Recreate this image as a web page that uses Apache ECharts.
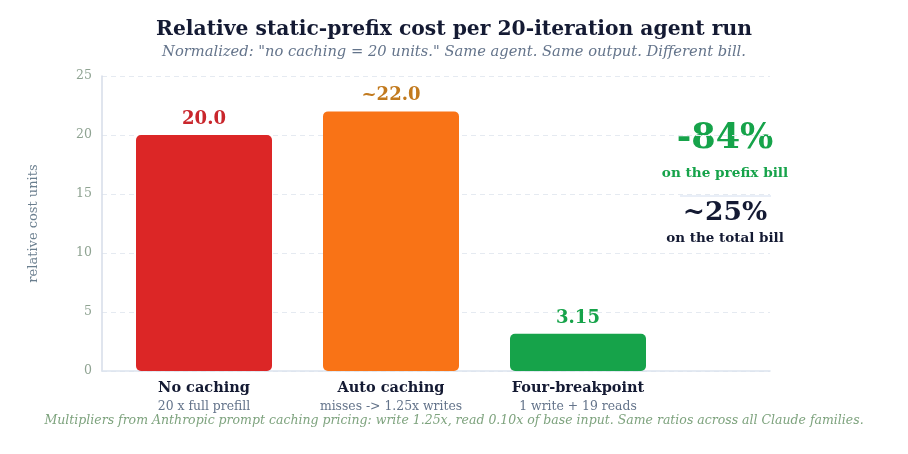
<!DOCTYPE html>
<html>
<head>
<meta charset="utf-8" />
<title>Relative static-prefix cost</title>
<script src="https://cdnjs.cloudflare.com/ajax/libs/echarts/6.0.0/echarts.min.js"></script>
<style>
  html, body { margin: 0; padding: 0; background: #fff; }
  #chart { width: 908px; height: 454px; }
</style>
</head>
<body>
<div id="chart"></div>
<script>
  // data
  var categories = ['No caching', 'Auto caching', 'Four-breakpoint'];
  var subLabels = ['20 x full prefill', 'misses -> 1.25x writes', '1 write + 19 reads'];
  var values = [20.0, 22.0, 3.15];
  var valueLabels = ['20.0', '~22.0', '3.15'];
  var barColors = ['#dc2626', '#f97316', '#16a34a'];
  var labelColors = ['#c9262c', '#c27a1e', '#16a34a'];
  var yTicks = { min: 0, max: 25, interval: 5 };

  var font = 'DejaVu Serif';
  var dark = '#141a33';

  var option = {
    animation: false,
    title: [{
      text: 'Relative static-prefix cost per 20-iteration agent run',
      left: 'center', top: 15,
      textStyle: { fontFamily: font, fontSize: 20.3, fontWeight: 'bold', color: dark }
    }, {
      text: 'Normalized: "no caching = 20 units." Same agent. Same output. Different bill.',
      left: 'center', top: 40,
      textStyle: { fontFamily: font, fontSize: 14.7, fontStyle: 'italic', fontWeight: 'normal', color: '#64748b' }
    }, {
      text: 'Multipliers from Anthropic prompt caching pricing: write 1.25x, read 0.10x of base input. Same ratios across all Claude families.',
      left: 'center', top: 409,
      textStyle: { fontFamily: font, fontSize: 12.5, fontStyle: 'italic', fontWeight: 'normal', color: '#7ea37e' }
    }],
    grid: [
      // background grid: axis lines + dashed split lines
      { left: 102, right: 138, top: 76, bottom: 83 },
      // bars
      { left: 110.5, right: 236.5, top: 76, bottom: 83 }
    ],
    xAxis: [{
      gridIndex: 0, type: 'category', data: [''],
      axisLine: { lineStyle: { color: '#dbe3ee', width: 1.5 } },
      axisTick: { show: false }, axisLabel: { show: false }
    }, {
      gridIndex: 1, type: 'category', data: categories,
      axisLine: { show: false }, axisTick: { show: false },
      axisLabel: {
        margin: 8,
        formatter: function (v, i) { return '{a|' + v + '}\n{b|' + subLabels[i] + '}'; },
        rich: {
          a: { fontFamily: font, fontSize: 14.5, fontWeight: 'bold', color: dark, lineHeight: 19 },
          b: { fontFamily: font, fontSize: 12.4, color: '#64748b', lineHeight: 17 }
        }
      }
    }],
    yAxis: [{
      gridIndex: 0, type: 'value', min: yTicks.min, max: yTicks.max, interval: yTicks.interval,
      name: 'relative cost units', nameLocation: 'middle', nameGap: 62, nameRotate: 90,
      nameTextStyle: { fontFamily: font, fontSize: 13, color: '#6b7f8f' },
      axisLine: { show: true, lineStyle: { color: '#d6dce8', width: 1.5 } },
      axisTick: { show: false },
      axisLabel: { fontFamily: font, fontSize: 12.5, color: '#8fa392', margin: 10 },
      splitLine: { lineStyle: { color: '#e5eaf1', type: [5, 4], width: 1 } }
    }, {
      gridIndex: 1, type: 'value', min: yTicks.min, max: yTicks.max, interval: yTicks.interval,
      show: false, splitLine: { show: false }
    }],
    series: [{
      type: 'bar', xAxisIndex: 1, yAxisIndex: 1,
      barWidth: 136,
      data: values.map(function (v, i) {
        return {
          value: v,
          itemStyle: { color: barColors[i], borderRadius: [5, 5, 5, 5] },
          label: { color: labelColors[i], formatter: valueLabels[i] }
        };
      }),
      label: {
        show: true, position: 'top', distance: 7,
        fontFamily: font, fontSize: 18, fontWeight: 'bold'
      }
    }]
  };

  // right-hand annotation
  option.graphic = [
    { type: 'text', x: 725, y: 139, style: { text: '-84%', fontFamily: font, fontSize: 35, fontWeight: 'bold', fill: '#16a34a', align: 'center', verticalAlign: 'middle' } },
    { type: 'text', x: 725, y: 173, style: { text: 'on the prefix bill', fontFamily: font, fontSize: 13.6, fontWeight: 'bold', fill: '#16a34a', align: 'center', verticalAlign: 'middle' } },
    { type: 'line', shape: { x1: 680, y1: 196, x2: 771, y2: 196 }, style: { stroke: '#d3def0', lineWidth: 1 } },
    { type: 'text', x: 725, y: 213, style: { text: '~25%', fontFamily: font, fontSize: 26.5, fontWeight: 'bold', fill: dark, align: 'center', verticalAlign: 'middle' } },
    { type: 'text', x: 725, y: 238, style: { text: 'on the total bill', fontFamily: font, fontSize: 13.5, fontWeight: 'bold', fill: dark, align: 'center', verticalAlign: 'middle' } }
  ];

  var chart = echarts.init(document.getElementById('chart'));
  chart.setOption(option);
</script>
</body>
</html>
